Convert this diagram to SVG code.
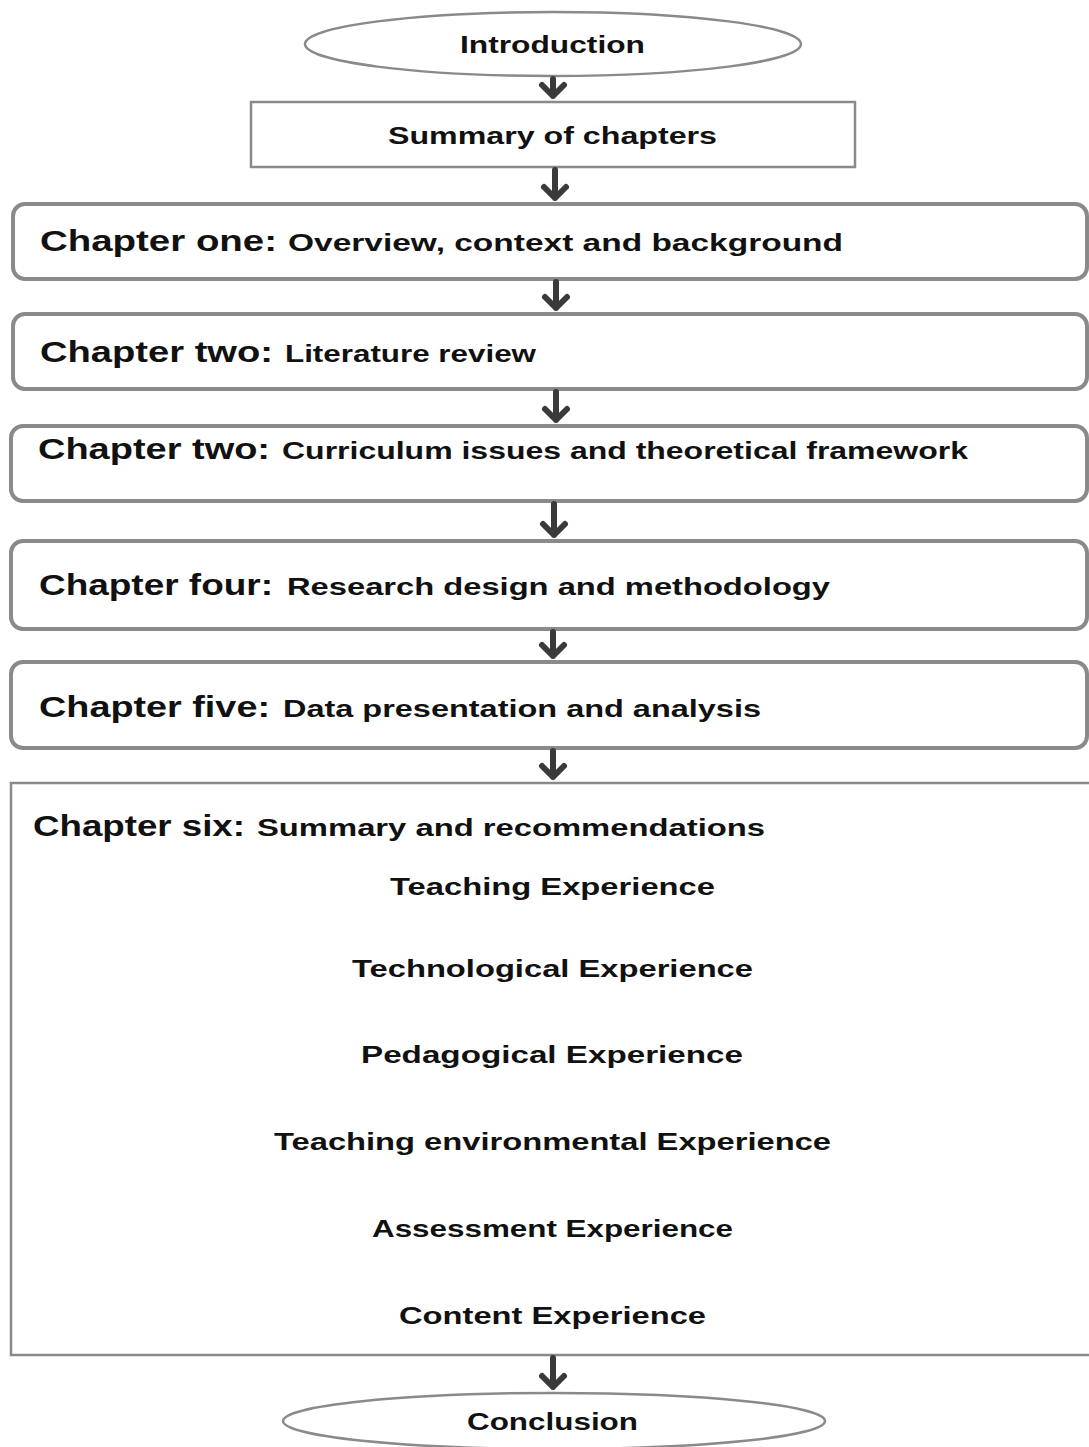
<svg xmlns="http://www.w3.org/2000/svg" width="1089" height="1447" viewBox="0 0 1089 1447">
  <style>
    .bg { fill: #ffffff; }
    .oval { fill: #ffffff; stroke: #8a8a8a; stroke-width: 2.5; }
    .box { fill: #ffffff; stroke: #8a8a8a; stroke-width: 2.5; }
    .rbox { fill: #ffffff; stroke: #8a8a8a; stroke-width: 4; }
    .t { font-family: "Liberation Sans", Arial, sans-serif; font-weight: bold; fill: #111111; }
    .head { font-size: 29px; }
    .sub { font-size: 23px; }
    .lbl { font-size: 23px; }
    .arrow { fill: none; stroke: #3a3a3a; stroke-width: 6; stroke-linecap: round; stroke-linejoin: round; }
  </style>
  <rect class="bg" x="0" y="0" width="1089" height="1447"/>

  <g id="introduction">
    <ellipse class="oval" cx="553" cy="44" rx="248" ry="32"/>
    <text class="t lbl" x="460" y="53" textLength="185" lengthAdjust="spacingAndGlyphs">Introduction</text>
  </g>

  <g id="summary">
    <rect class="box" x="251" y="102" width="604" height="65"/>
    <text class="t lbl" x="388" y="144" textLength="329" lengthAdjust="spacingAndGlyphs">Summary of chapters</text>
  </g>

  <g id="chapter-one">
    <rect class="rbox" x="13" y="204" width="1074" height="75" rx="12"/>
    <text class="t head" x="40" y="251" textLength="237" lengthAdjust="spacingAndGlyphs">Chapter one:</text>
    <text class="t sub" x="288" y="251" textLength="555" lengthAdjust="spacingAndGlyphs">Overview, context and background</text>
  </g>

  <g id="chapter-two">
    <rect class="rbox" x="13" y="314" width="1074" height="75" rx="12"/>
    <text class="t head" x="40" y="362" textLength="233" lengthAdjust="spacingAndGlyphs">Chapter two:</text>
    <text class="t sub" x="285" y="362" textLength="251" lengthAdjust="spacingAndGlyphs">Literature review</text>
  </g>

  <g id="chapter-three">
    <rect class="rbox" x="11" y="426" width="1076" height="75" rx="12"/>
    <text class="t head" x="38" y="459" textLength="232" lengthAdjust="spacingAndGlyphs">Chapter two:</text>
    <text class="t sub" x="282" y="459" textLength="686" lengthAdjust="spacingAndGlyphs">Curriculum issues and theoretical framework</text>
  </g>

  <g id="chapter-four">
    <rect class="rbox" x="11" y="541" width="1076" height="88" rx="12"/>
    <text class="t head" x="39" y="595" textLength="234" lengthAdjust="spacingAndGlyphs">Chapter four:</text>
    <text class="t sub" x="287" y="595" textLength="543" lengthAdjust="spacingAndGlyphs">Research design and methodology</text>
  </g>

  <g id="chapter-five">
    <rect class="rbox" x="11" y="662" width="1076" height="86" rx="12"/>
    <text class="t head" x="39" y="717" textLength="231" lengthAdjust="spacingAndGlyphs">Chapter five:</text>
    <text class="t sub" x="283" y="717" textLength="478" lengthAdjust="spacingAndGlyphs">Data presentation and analysis</text>
  </g>

  <g id="chapter-six">
    <rect class="box" x="11" y="783" width="1080" height="572"/>
    <text class="t head" x="33" y="836" textLength="212" lengthAdjust="spacingAndGlyphs">Chapter six:</text>
    <text class="t sub" x="257" y="836" textLength="508" lengthAdjust="spacingAndGlyphs">Summary and recommendations</text>
    <text class="t lbl" x="390" y="895" textLength="325" lengthAdjust="spacingAndGlyphs">Teaching Experience</text>
    <text class="t lbl" x="352" y="977" textLength="401" lengthAdjust="spacingAndGlyphs">Technological Experience</text>
    <text class="t lbl" x="361" y="1063" textLength="382" lengthAdjust="spacingAndGlyphs">Pedagogical Experience</text>
    <text class="t lbl" x="274" y="1150" textLength="557" lengthAdjust="spacingAndGlyphs">Teaching environmental Experience</text>
    <text class="t lbl" x="372" y="1237" textLength="361" lengthAdjust="spacingAndGlyphs">Assessment Experience</text>
    <text class="t lbl" x="399" y="1324" textLength="307" lengthAdjust="spacingAndGlyphs">Content Experience</text>
  </g>

  <g id="conclusion">
    <ellipse class="oval" cx="554" cy="1421" rx="271" ry="28"/>
    <text class="t lbl" x="467" y="1430" textLength="171" lengthAdjust="spacingAndGlyphs">Conclusion</text>
  </g>

  <g id="connectors">
    <path class="arrow" d="M553 79 V96 M542 85 L553 96 L564 85"/>
    <path class="arrow" d="M555 170 V198 M544 187 L555 198 L566 187"/>
    <path class="arrow" d="M556 282 V308 M545 297 L556 308 L567 297"/>
    <path class="arrow" d="M556 392 V420 M545 409 L556 420 L567 409"/>
    <path class="arrow" d="M554 504 V535 M543 524 L554 535 L565 524"/>
    <path class="arrow" d="M553 632 V656 M542 645 L553 656 L564 645"/>
    <path class="arrow" d="M553 751 V777 M542 766 L553 777 L564 766"/>
    <path class="arrow" d="M553 1358 V1387 M542 1376 L553 1387 L564 1376"/>
  </g>
</svg>
